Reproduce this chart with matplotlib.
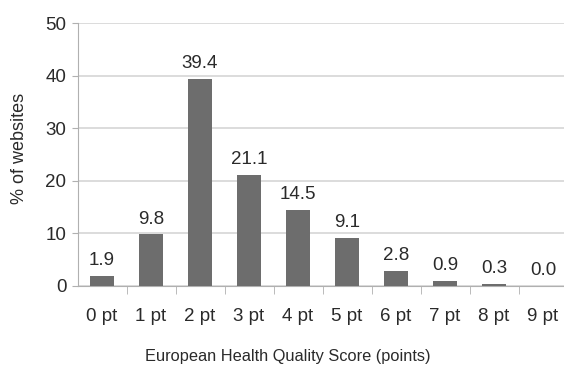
"""
Distribution of websites by European Health Quality Score.
"""

import matplotlib
matplotlib.use("Agg")
import matplotlib.pyplot as plt

# ── DATA ─────────────────────────────────────────────
categories = ["0 pt", "1 pt", "2 pt", "3 pt", "4 pt", "5 pt", "6 pt", "7 pt", "8 pt", "9 pt"]
percent = [1.9, 9.8, 39.4, 21.1, 14.5, 9.1, 2.8, 0.9, 0.3, 0.0]
y_ticks = [0, 10, 20, 30, 40, 50]

plt.rcParams["font.family"] = ["Liberation Sans", "DejaVu Sans"]

TXT = "#2a2a2a"
W, H = 564, 367
fig = plt.figure(figsize=(W / 100, H / 100), dpi=100)
# axes area runs slightly past the right edge (the original is cropped)
ax = fig.add_axes([77.5 / W, (H - 286) / H, 490 / W, 263 / H])

pos = list(range(len(categories)))
ax.bar(pos, percent, width=0.5, color="#6d6d6d", zorder=3)
for x, v in zip(pos, percent):
    ax.annotate(f"{v:.1f}", (x, v), xytext=(0, 5), textcoords="offset points",
                ha="center", va="bottom", fontsize=13.5, color=TXT)

ax.set_xlim(-0.5, len(categories) - 0.5)
ax.set_ylim(0, 50)
ax.set_yticks(y_ticks)
ax.set_yticklabels([str(t) for t in y_ticks], fontsize=13.5, color=TXT)
ax.yaxis.grid(True, color="#d6d6d6", linewidth=1.2, zorder=0)
ax.tick_params(axis="y", length=4, color="#b0b0b0", pad=4)

ax.set_xticks(pos)
ax.set_xticklabels(categories, fontsize=13.5, color=TXT)
ax.set_xticks([p + 0.5 for p in pos[:-1]], minor=True)
ax.tick_params(axis="x", which="major", length=0, pad=16)
ax.tick_params(axis="x", which="minor", length=6, color="#b0b0b0", direction="out")

for s in ["top", "right"]:
    ax.spines[s].set_visible(False)
ax.spines["left"].set_color("#b0b0b0")
ax.spines["bottom"].set_color("#b0b0b0")

fig.text(20 / W, 1 - 148 / H, "% of websites", rotation=90, ha="center", va="center",
         fontsize=13, color=TXT)
fig.text(288 / W, 1 - 357 / H, "European Health Quality Score (points)", ha="center",
         va="center", fontsize=11.8, color=TXT)

fig.savefig("out.png", dpi=100, facecolor="white")
